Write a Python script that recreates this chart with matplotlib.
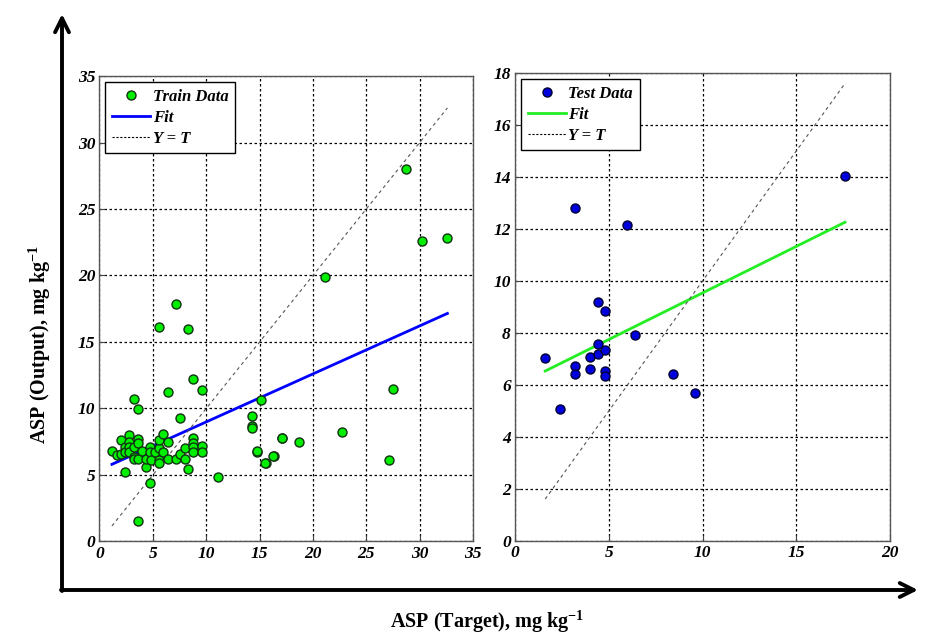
import matplotlib
matplotlib.use("Agg")
import matplotlib.pyplot as plt
from matplotlib.lines import Line2D
import numpy as np

plt.rcParams["mathtext.fontset"] = "custom"
plt.rcParams["mathtext.rm"] = "Liberation Serif:bold"
plt.rcParams["mathtext.bf"] = "Liberation Serif:bold"
plt.rcParams["mathtext.it"] = "Liberation Serif:bold:italic"

# ---------------- data ----------------
train_target = [7.21, 5.59, 8.33, 8.77, 9.58, 6.40, 3.19, 3.60, 7.52, 15.12,
                14.32, 14.32, 14.32, 14.75, 15.56, 16.34, 17.12, 11.14, 8.33, 4.78,
                3.60, 2.41, 4.35, 1.17, 1.67, 1.98, 1.98, 2.41, 2.41, 2.79,
                2.79, 2.79, 2.79, 3.19, 3.19, 3.19, 3.60, 3.60, 3.60, 4.00,
                4.35, 4.78, 4.78, 4.84, 5.22, 5.59, 5.59, 5.59, 5.59, 5.97,
                5.97, 6.40, 6.40, 7.21, 7.52, 7.99, 7.99, 8.77, 8.77, 8.77,
                8.77, 9.58, 9.58, 28.7, 30.26, 32.6, 21.1, 27.46, 27.1, 22.7,
                18.7, 17.1, 16.3, 15.5, 14.75]
train_output = [17.88, 16.15, 15.98, 12.19, 11.39, 11.24, 10.74, 9.96, 9.31, 10.64,
                9.46, 8.68, 8.51, 6.75, 5.90, 6.43, 7.81, 4.87, 5.45, 4.37,
                1.56, 5.25, 5.62, 6.83, 6.50, 7.63, 6.58, 7.13, 6.75, 8.01,
                7.51, 7.13, 6.75, 7.13, 6.38, 6.18, 7.68, 7.43, 6.18, 6.83,
                6.23, 7.13, 6.75, 6.10, 6.75, 7.00, 6.10, 5.90, 7.60, 8.08,
                6.75, 7.51, 6.23, 6.23, 6.60, 7.00, 6.23, 7.76, 7.38, 7.08,
                6.73, 7.18, 6.75, 28.0, 22.6, 22.8, 19.9, 11.47, 6.13, 8.21,
                7.50, 7.78, 6.40, 5.90, 6.78]

test_target = [1.61, 2.39, 3.21, 3.21, 3.99, 3.99, 4.40, 4.40, 4.40, 4.82,
               4.82, 4.82, 4.82, 6.42, 8.40, 9.59, 3.21, 5.99, 17.6]
test_output = [7.04, 5.08, 6.73, 6.44, 7.08, 6.62, 7.56, 7.19, 9.20, 8.85,
               7.35, 6.53, 6.36, 7.91, 6.41, 5.69, 12.80, 12.17, 14.05]

train_fit = (0.361, 5.38)   # slope, intercept
test_fit = (0.358, 5.96)

left_xticks = [0, 5, 10, 15, 20, 25, 30, 35]
left_yticks = [0, 5, 10, 15, 20, 25, 30, 35]
right_xticks = [0, 5, 10, 15, 20]
right_yticks = [0, 2, 4, 6, 8, 10, 12, 14, 16, 18]

xlabel = "ASP (Target), mg kg$^{-1}$"
ylabel = "ASP (Output), mg kg$^{-1}$"

# ---------------- figure ----------------
fig = plt.figure(figsize=(9.33, 6.36), dpi=100)
tickfont = dict(family="Liberation Serif", weight="bold", style="italic", size=12.5)
legfont = dict(family="Liberation Serif", weight="bold", style="italic", size=12)


def style_axes(ax, xt, yt):
    ax.set_xticks(xt)
    ax.set_yticks(yt)
    ax.set_xlim(xt[0], xt[-1])
    ax.set_ylim(yt[0], yt[-1])
    ax.set_xticklabels([str(v) for v in xt], fontdict=tickfont)
    ax.set_yticklabels([str(v) for v in yt], fontdict=tickfont)
    ax.tick_params(direction="in", length=4, color="#444444", pad=3)
    ax.grid(True, color="black", linestyle=(0, (2, 2)), linewidth=0.9)
    for s in ax.spines.values():
        s.set_color("#555555")
        s.set_linewidth(1.0)


def draw_panel(ax, tx, ty, fit, mcolor, medge, lcolor, label):
    tx = np.asarray(tx)
    ty = np.asarray(ty)
    lo, hi = tx.min(), tx.max()
    xs = np.array([lo, hi])
    ax.plot(tx, ty, "o", color=mcolor, markeredgecolor=medge, markersize=6.5,
            markeredgewidth=1.0, zorder=4)
    ax.plot(xs, fit[0] * xs + fit[1], color=lcolor, linewidth=2, zorder=3)
    ax.plot(xs, xs, color="#555555", linestyle=(0, (3, 3)), linewidth=0.8, zorder=3)
    handles = [
        Line2D([], [], marker="o", linestyle="none", color=mcolor,
               markeredgecolor=medge, markersize=6.5),
        Line2D([], [], color=lcolor, linewidth=2),
        Line2D([], [], color="black", linestyle=(0, (2, 1.5)), linewidth=0.8),
    ]
    leg = ax.legend(handles, [label, "Fit", "Y = T"], loc="upper left",
                    prop=legfont, frameon=True, fancybox=False,
                    edgecolor="black", framealpha=1, handlelength=2.3,
                    handletextpad=0.15, borderpad=0.4, labelspacing=0.3,
                    borderaxespad=0.35)
    leg.get_frame().set_linewidth(1.0)


ax1 = fig.add_axes([0.1066, 0.1486, 0.4004, 0.7319])
style_axes(ax1, left_xticks, left_yticks)
draw_panel(ax1, train_target, train_output, train_fit, "#00ee00", "#113311",
           "blue", "Train Data")

ax2 = fig.add_axes([0.5520, 0.1494, 0.4019, 0.7358])
style_axes(ax2, right_xticks, right_yticks)
draw_panel(ax2, test_target, test_output, test_fit, "#0000dd", "#000033",
           "#22ee22", "Test Data")

# big arrows
ann_kw = dict(xycoords="figure fraction", textcoords="figure fraction",
              annotation_clip=False,
              arrowprops=dict(arrowstyle="->,head_length=1.0,head_width=0.5",
                              color="black", linewidth=2.8,
                              shrinkA=0, shrinkB=0))
ax1.annotate("", xy=(62 / 933, 1 - 14 / 636),
             xytext=(62 / 933, 1 - 591 / 636), **ann_kw)
ax1.annotate("", xy=(918 / 933, 1 - 590 / 636),
             xytext=(61 / 933, 1 - 590 / 636), **ann_kw)

fig.text(487 / 933, 1 - 622 / 636, xlabel, ha="center", va="center",
         family="Liberation Serif", weight="bold", size=14.5)
fig.text(40 / 933, 1 - 345 / 636, ylabel, ha="center", va="center",
         rotation=90, family="Liberation Serif", weight="bold", size=14.5)

fig.savefig("out.png", dpi=100)
